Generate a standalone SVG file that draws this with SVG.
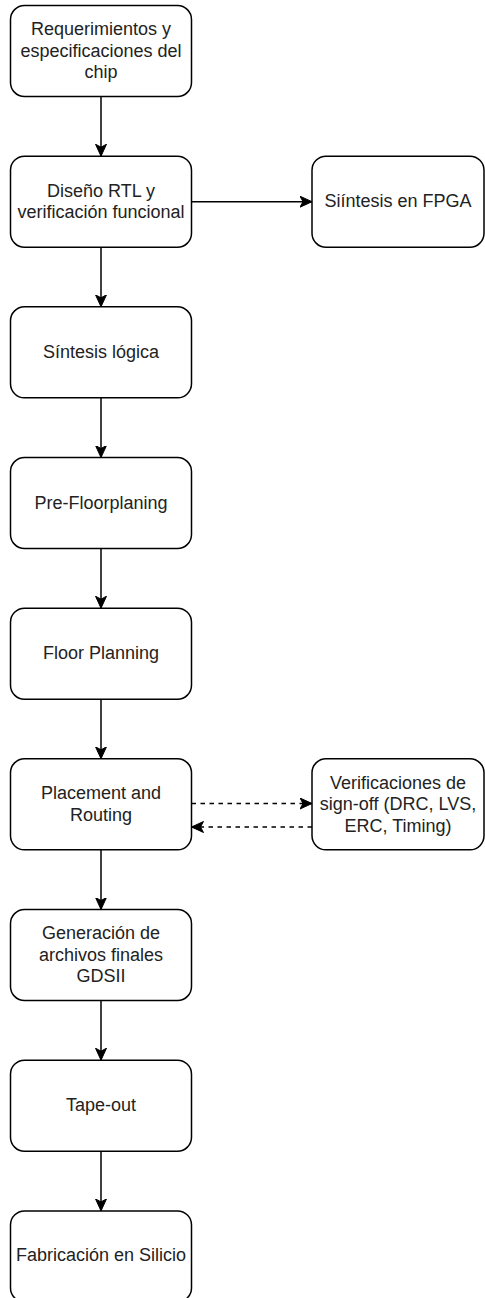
<svg xmlns="http://www.w3.org/2000/svg" width="485" height="1298" viewBox="0 0 485 1298">
<defs>
<style>
.box{fill:#fff;stroke:#000;stroke-width:1.5}
.lbl{font-family:"Liberation Sans",Arial,sans-serif;font-size:18px;fill:#222;text-anchor:middle}
.edge{fill:none;stroke:#000;stroke-width:1.5}
.dash{stroke-dasharray:4.5 4.5}
</style>
<marker id="arr" markerUnits="userSpaceOnUse" markerWidth="14" markerHeight="12" refX="12" refY="6" orient="auto">
<path d="M0,0.5 L12,6 L0,11.5 L3,6 Z" fill="#000" stroke="#000" stroke-width="1"/>
</marker>
</defs>
<rect width="485" height="1298" fill="#fff"/>
<g id="connectors">
<line class="edge" x1="101" y1="96.5" x2="101" y2="156.2" marker-end="url(#arr)"/>
<line class="edge" x1="101" y1="247.2" x2="101" y2="306.8" marker-end="url(#arr)"/>
<line class="edge" x1="101" y1="397.8" x2="101" y2="457.5" marker-end="url(#arr)"/>
<line class="edge" x1="101" y1="548.5" x2="101" y2="608.2" marker-end="url(#arr)"/>
<line class="edge" x1="101" y1="699.2" x2="101" y2="758.8" marker-end="url(#arr)"/>
<line class="edge" x1="101" y1="849.8" x2="101" y2="909.5" marker-end="url(#arr)"/>
<line class="edge" x1="101" y1="1000.5" x2="101" y2="1060.2" marker-end="url(#arr)"/>
<line class="edge" x1="101" y1="1151.2" x2="101" y2="1210.9" marker-end="url(#arr)"/>
<line class="edge" x1="191.5" y1="201.7" x2="312" y2="201.7" marker-end="url(#arr)"/>
<line class="edge dash" x1="191.5" y1="803.5" x2="312" y2="803.5" marker-end="url(#arr)"/>
<line class="edge dash" x1="312" y1="827" x2="191.5" y2="827" marker-end="url(#arr)"/>
</g>
<g id="n1"><rect class="box" x="10.5" y="5.5" width="181" height="91" rx="14"/>
<text class="lbl" x="101" y="35">Requerimientos y</text><text class="lbl" x="101" y="56.5">especificaciones del</text><text class="lbl" x="101" y="78">chip</text></g>
<g id="n2"><rect class="box" x="10.5" y="156.2" width="181" height="91" rx="14"/>
<text class="lbl" x="101" y="196.5">Diseño RTL y</text><text class="lbl" x="101" y="218">verificación funcional</text></g>
<g id="n3"><rect class="box" x="10.5" y="306.8" width="181" height="91" rx="14"/>
<text class="lbl" x="101" y="357.8">Síntesis lógica</text></g>
<g id="n4"><rect class="box" x="10.5" y="457.5" width="181" height="91" rx="14"/>
<text class="lbl" x="101" y="508.5">Pre-Floorplaning</text></g>
<g id="n5"><rect class="box" x="10.5" y="608.2" width="181" height="91" rx="14"/>
<text class="lbl" x="101" y="659.2">Floor Planning</text></g>
<g id="n6"><rect class="box" x="10.5" y="758.8" width="181" height="91" rx="14"/>
<text class="lbl" x="101" y="799.1">Placement and</text><text class="lbl" x="101" y="820.6">Routing</text></g>
<g id="n7"><rect class="box" x="10.5" y="909.5" width="181" height="91" rx="14"/>
<text class="lbl" x="101" y="939">Generación de</text><text class="lbl" x="101" y="960.5">archivos finales</text><text class="lbl" x="101" y="982">GDSII</text></g>
<g id="n8"><rect class="box" x="10.5" y="1060.2" width="181" height="91" rx="14"/>
<text class="lbl" x="101" y="1111.2">Tape-out</text></g>
<g id="n9"><rect class="box" x="10.5" y="1210.9" width="181" height="91" rx="14"/>
<text class="lbl" x="101" y="1261">Fabricación en Silicio</text></g>
<g id="r1"><rect class="box" x="312" y="156.2" width="172" height="91" rx="14"/>
<text class="lbl" x="398" y="207.2">Siíntesis en FPGA</text></g>
<g id="r2"><rect class="box" x="312" y="758.8" width="172" height="91" rx="14"/>
<text class="lbl" x="398" y="788.8">Verificaciones de</text><text class="lbl" x="398" y="810.3">sign-off (DRC, LVS,</text><text class="lbl" x="398" y="831.8">ERC, Timing)</text></g>
</svg>
